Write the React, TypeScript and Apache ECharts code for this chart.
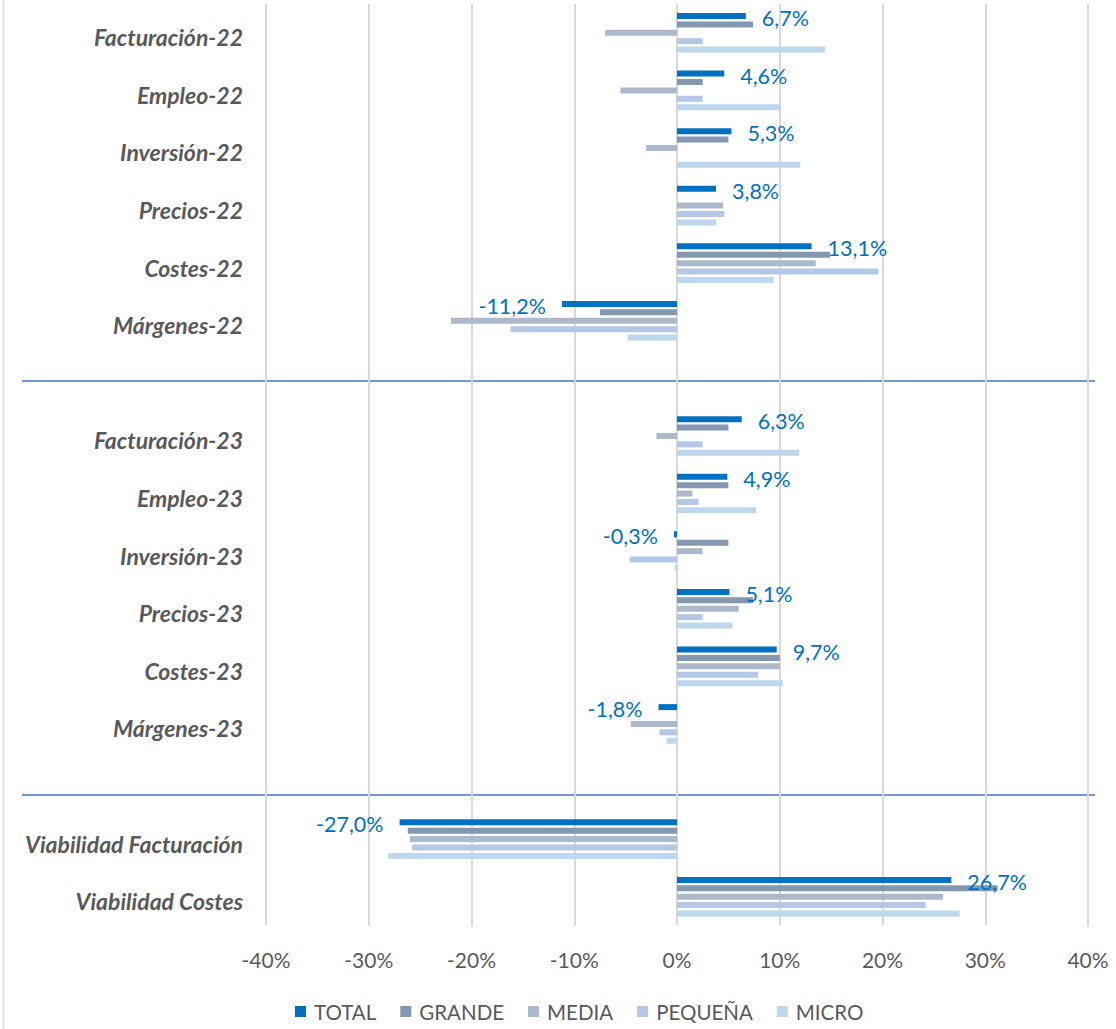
import React, { useEffect, useRef } from 'react';
import * as echarts from 'echarts';

const categories = [
  'Facturación-22', 'Empleo-22', 'Inversión-22', 'Precios-22', 'Costes-22', 'Márgenes-22', '',
  'Facturación-23', 'Empleo-23', 'Inversión-23', 'Precios-23', 'Costes-23', 'Márgenes-23', '',
  'Viabilidad Facturación', 'Viabilidad Costes',
];

const seriesNames = ['TOTAL', 'GRANDE', 'MEDIA', 'PEQUEÑA', 'MICRO'];

const totalValues = [6.7, 4.6, 5.3, 3.8, 13.1, -11.2, null, 6.3, 4.9, -0.3, 5.1, 9.7, -1.8, null, -27.0, 26.7];
const grandeValues = [7.4, 2.5, 5.0, 0, 14.9, -7.5, null, 5.0, 5.0, 5.0, 7.4, 10.0, 0, null, -26.2, 31.2];
const mediaValues = [-7.0, -5.5, -3.0, 4.5, 13.5, -22.0, null, -2.0, 1.5, 2.5, 6.0, 10.0, -4.5, null, -26.0, 25.9];
const pequenaValues = [2.5, 2.5, 0, 4.6, 19.6, -16.2, null, 2.5, 2.1, -4.6, 2.5, 7.9, -1.7, null, -25.8, 24.2];
const microValues = [14.4, 10.1, 12.0, 3.8, 9.4, -4.8, null, 11.9, 7.7, -0.2, 5.4, 10.3, -1.0, null, -28.1, 27.5];

const seriesValues = [totalValues, grandeValues, mediaValues, pequenaValues, microValues];
const seriesColors = ['#0070C0', '#8497B0', '#ADB9CA', '#B4C7E7', '#BDD7EE'];

const xMin = -40;
const xMax = 40;
const xInterval = 10;

const FONT = 'Lato, "Open Sans", sans-serif';

const fmtPct = (v: number) => v.toFixed(1).replace('.', ',') + '%';

export default function App() {
  const ref = useRef<HTMLDivElement>(null);

  useEffect(() => {
    document.body.style.margin = '0';
    if (!ref.current) return;
    const chart = echarts.init(ref.current, null, { renderer: 'svg' });

    const series = seriesNames.map((name, si) => {
      const vals = seriesValues[si];
      const isTotal = si === 0;
      return {
        name,
        type: 'bar',
        z: isTotal ? 5 : 2,
        barWidth: 6,
        barGap: '40%',
        itemStyle: { color: seriesColors[si] },
        data: vals.map((v) => {
          if (v === null) return '-';
          if (!isTotal) return v;
          return {
            value: v,
            label: {
              show: true,
              position: v < 0 ? 'left' : 'right',
              distance: 16,
              offset: [0, 2],
              formatter: () => fmtPct(v),
              color: '#0070C0',
              fontSize: 21.5,
              fontFamily: FONT,
            },
          };
        }),
      };
    });

    const catLabelStyle = {
      color: '#595959',
      fontSize: 23,
      fontWeight: 'bold',
      fontStyle: 'italic',
      fontFamily: FONT,
      padding: [9, 0, 0, 0],
    };

    chart.setOption({
      animation: false,
      backgroundColor: '#FFFFFF',
      textStyle: { fontFamily: FONT },
      grid: { left: 266, right: 28, top: 4, bottom: 103.5, containLabel: false },
      xAxis: {
        type: 'value',
        min: xMin,
        max: xMax,
        interval: xInterval,
        axisLine: { show: false },
        axisTick: { show: false },
        splitLine: { show: true, lineStyle: { color: '#D9D9D9', width: 2 } },
        axisLabel: {
          formatter: '{value}%',
          color: '#595959',
          fontSize: 21,
          fontFamily: FONT,
          margin: 23,
        },
      },
      yAxis: {
        type: 'category',
        inverse: true,
        data: categories,
        axisLine: { show: false },
        axisTick: { show: false },
        axisLabel: {
          color: '#595959',
          fontSize: 23,
          fontWeight: 'bold',
          fontStyle: 'italic',
          fontFamily: FONT,
          margin: 23,
          formatter: (v: string) => (v ? `{c|${v}}` : ''),
          rich: { c: catLabelStyle },
        },
      },
      legend: {
        data: seriesNames,
        bottom: 2,
        left: 290,
        itemWidth: 11,
        itemHeight: 11,
        itemGap: 24,
        icon: 'rect',
        textStyle: { color: '#595959', fontSize: 20.5, fontFamily: FONT, padding: [0, 0, 0, 3] },
      },
      graphic: [
        { type: 'line', shape: { x1: 3.5, y1: 0, x2: 3.5, y2: 1029 }, style: { stroke: '#D9D9D9', lineWidth: 1.5 } },
        { type: 'line', shape: { x1: 22, y1: 381, x2: 1095, y2: 381 }, style: { stroke: '#4472C4', lineWidth: 1.3 } },
        { type: 'line', shape: { x1: 22, y1: 795, x2: 1095, y2: 795 }, style: { stroke: '#4472C4', lineWidth: 1.3 } },
      ],
      series,
    });

    return () => chart.dispose();
  }, []);

  return <div ref={ref} style={{ width: 1116, height: 1029, position: 'absolute', left: 0, top: 0 }} />;
}
